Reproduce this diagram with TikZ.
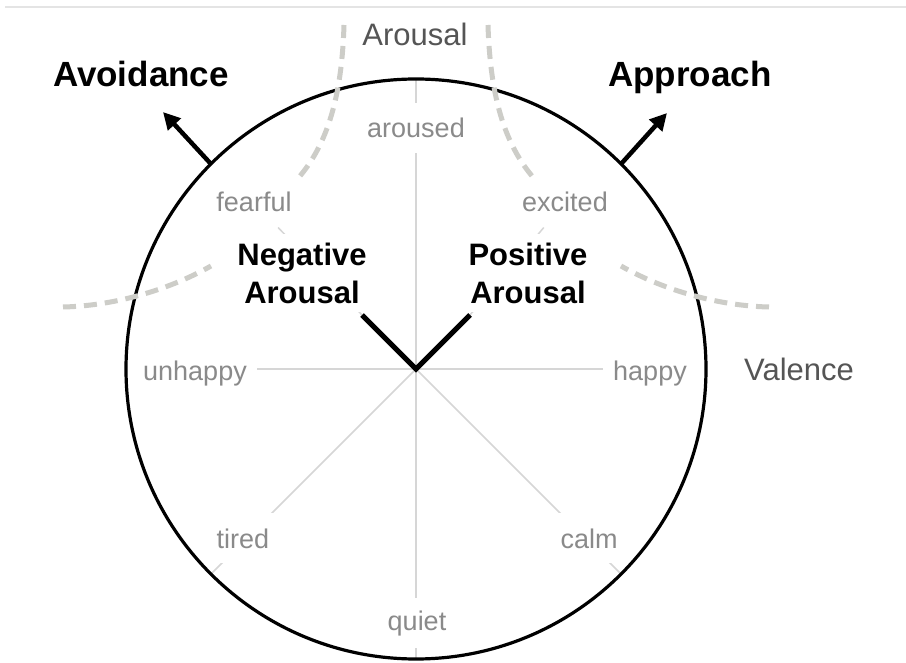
\documentclass[tikz,border=0pt]{standalone}
\usepackage{fontspec}
\setmainfont{Liberation Sans}
\usetikzlibrary{arrows.meta}
\definecolor{lab}{HTML}{8A8A8A}
\definecolor{axl}{HTML}{555555}
\definecolor{spk}{HTML}{D6D6D6}
\definecolor{topl}{HTML}{E4E4E4}
\definecolor{dshc}{HTML}{CDCDC8}
\pgfdeclarelayer{back}
\pgfdeclarelayer{bg}
\pgfsetlayers{back,bg,main}
\begin{document}
\begin{tikzpicture}[x=1pt,y=-1pt,
  lbl/.style={font=\fontsize{27}{30}\selectfont, text=lab, fill=white,
    inner xsep=10pt, inner ysep=0pt, minimum height=50pt, anchor=base},
  boldlbl/.style={font=\bfseries\fontsize{31}{38}\selectfont, align=center,
    fill=white, inner xsep=9pt, inner ysep=9pt},
  title/.style={font=\bfseries\fontsize{35}{40}\selectfont, anchor=base},
  axis/.style={font=\fontsize{31}{36}\selectfont, text=axl, anchor=base},
  spoke/.style={draw=spk, line width=1.5pt},
  dsh/.style={draw=dshc, line width=5pt, dash pattern=on 13pt off 8pt},
  arr/.style={line width=4.5pt, -{Triangle[length=17pt,width=17pt]}}]
\useasboundingbox (0,0) rectangle (906,663);
\begin{pgfonlayer}{back}
\fill[white] (0,0) rectangle (906,663);
\end{pgfonlayer}
\draw[topl, line width=1.5pt] (5,7) -- (906,7);

\coordinate (c) at (416,369);
\node[draw, circle, line width=3.2pt, minimum size=580pt, inner sep=0pt, outer sep=0pt] (ring) at (c) {};

% grey emotion labels
\node[lbl] (aroused) at (416,138) {aroused};
\node[lbl] (quiet)   at (417,630) {quiet};
\node[lbl] (unhappy) at (195,381) {unhappy};
\node[lbl] (happy)   at (650,381) {happy};
\node[lbl] (fearful) at (254,212) {fearful};
\node[lbl] (excited) at (565,212) {excited};
\node[lbl] (tired)   at (243,548) {tired};
\node[lbl] (calm)    at (589,548) {calm};

% bold labels
\node[boldlbl] (neg) at (302,273) {Negative\\Arousal};
\node[boldlbl] (pos) at (528,273) {Positive\\Arousal};

% V ends
\coordinate (vl) at (362,315);
\coordinate (vr) at (470,315);

% spokes
\begin{pgfonlayer}{bg}
\draw[spoke] (ring.north) -- (ring.south);
\draw[spoke] (unhappy.east |- c) -- (happy.west |- c);
\draw[spoke] (c) -- (ring.225);
\draw[spoke] (c) -- (ring.315);
\draw[spoke] (vl) -- (fearful);
\draw[spoke] (vr) -- (excited);
\end{pgfonlayer}

% dashed curves
\draw[dsh] (344,25) .. controls (342,90) and (330,140) .. (300,176);
\draw[dsh] (488,25) .. controls (490,90) and (502,140) .. (532,176);
\draw[dsh] (63,307) .. controls (110,306) and (165,292) .. (211,266);
\draw[dsh] (769,307) .. controls (722,306) and (667,292) .. (621,266);

% V
\draw[line width=5pt] (vl) -- (c) -- (vr);

% arrows
\coordinate (avtip) at (163,112);
\coordinate (aptip) at (667,113);
\draw[arr] (ring.135) -- (avtip);
\draw[arr] (ring.45) -- (aptip);

% titles
\node[title] (avoid) at (141,87) {Avoidance};
\node[title] (appr) at (690,87) {Approach};
\node[axis] (arousal) at (415,46) {Arousal};
\node[axis] (valence) at (799,381) {Valence};
\end{tikzpicture}
\end{document}
